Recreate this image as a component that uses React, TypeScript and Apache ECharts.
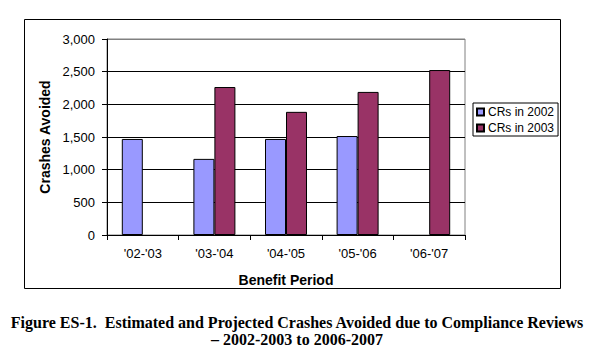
import React, { useEffect, useRef } from "react";
import * as echarts from "echarts";

// Benefit periods on the category axis
const periods = ["'02-'03", "'03-'04", "'04-'05", "'05-'06", "'06-'07"];
// Crashes avoided, by the year the compliance reviews were done
const crs2002 = [1470, 1165, 1470, 1515, null];
const crs2003 = [null, 2265, 1885, 2190, 2525];
const seriesNames = ["CRs in 2002", "CRs in 2003"];
const captionLines = [
  "Figure ES-1.  Estimated and Projected Crashes Avoided due to Compliance Reviews",
  "\u2013 2002-2003 to 2006-2007",
];

const SANS = "'Liberation Sans', Arial, sans-serif";
const SERIF = "'Liberation Serif', 'Times New Roman', serif";

export default function App() {
  const ref = useRef<HTMLDivElement>(null);

  useEffect(() => {
    if (!ref.current) return;
    const chart = echarts.init(ref.current, null, { renderer: "svg" });
    chart.setOption({
      animation: false,
      backgroundColor: "#fff",
      textStyle: { fontFamily: SANS, color: "#000" },
      grid: {
        left: 107,
        top: 39,
        width: 358,
        height: 196,
        show: true,
        borderColor: "#808080",
        borderWidth: 1,
        backgroundColor: "transparent",
      },
      legend: {
        orient: "vertical",
        left: 473,
        top: 103,
        padding: [3, 4, 2, 3],
        itemGap: 4,
        itemWidth: 7,
        itemHeight: 7,
        icon: "rect",
        borderColor: "#000",
        borderWidth: 1,
        borderRadius: 0,
        data: seriesNames,
        textStyle: { fontFamily: SANS, fontSize: 12, color: "#000", padding: [0, 0, 0, -1] },
      },
      xAxis: {
        type: "category",
        data: periods,
        name: "Benefit Period",
        nameLocation: "middle",
        nameGap: 38,
        nameTextStyle: { fontFamily: SANS, fontSize: 14, fontWeight: "bold", color: "#000" },
        axisLine: { show: true, lineStyle: { color: "#000", width: 1 } },
        axisTick: { show: true, length: 5, alignWithLabel: false, lineStyle: { color: "#000" } },
        axisLabel: { margin: 12, fontSize: 13, color: "#000", fontFamily: SANS },
        splitLine: { show: false },
      },
      yAxis: {
        type: "value",
        min: 0,
        max: 3000,
        interval: 500,
        name: "Crashes Avoided",
        nameLocation: "middle",
        nameRotate: 90,
        nameGap: 55,
        nameTextStyle: { fontFamily: SANS, fontSize: 14, fontWeight: "bold", color: "#000" },
        axisLine: { show: true, lineStyle: { color: "#000", width: 1 } },
        axisTick: { show: true, length: 5, lineStyle: { color: "#000" } },
        axisLabel: {
          margin: 12,
          fontSize: 13,
          color: "#000",
          fontFamily: SANS,
          formatter: (v: number) => v.toLocaleString("en-US"),
        },
        splitLine: {
          show: true,
          lineStyle: {
            color: ["#000", "#000", "#000", "#000", "#000", "#000", "#808080"],
            width: 1,
          },
        },
      },
      series: [
        {
          name: seriesNames[0],
          type: "bar",
          data: crs2002,
          barWidth: 21,
          barGap: "0%",
          itemStyle: { color: "#9999FF", borderColor: "#000", borderWidth: 1 },
        },
        {
          name: seriesNames[1],
          type: "bar",
          data: crs2003,
          barWidth: 21,
          barGap: "0%",
          itemStyle: { color: "#993366", borderColor: "#000", borderWidth: 1 },
        },
      ],
      graphic: [
        {
          type: "rect",
          shape: { x: 24.5, y: 19.5, width: 536, height: 269 },
          style: { fill: "none", stroke: "#000", lineWidth: 1 },
          silent: true,
        },
        {
          type: "text",
          x: 297,
          y: 322,
          style: {
            text: captionLines[0],
            font: `bold 16px ${SERIF}`,
            fill: "#000",
            align: "center",
            verticalAlign: "middle",
          },
        },
        {
          type: "text",
          x: 297,
          y: 339,
          style: {
            text: captionLines[1],
            font: `bold 16px ${SERIF}`,
            fill: "#000",
            align: "center",
            verticalAlign: "middle",
          },
        },
      ],
    });
    return () => chart.dispose();
  }, []);

  return (
    <div
      ref={ref}
      style={{ position: "absolute", left: 0, top: 0, width: 594, height: 353, background: "#fff" }}
    />
  );
}
